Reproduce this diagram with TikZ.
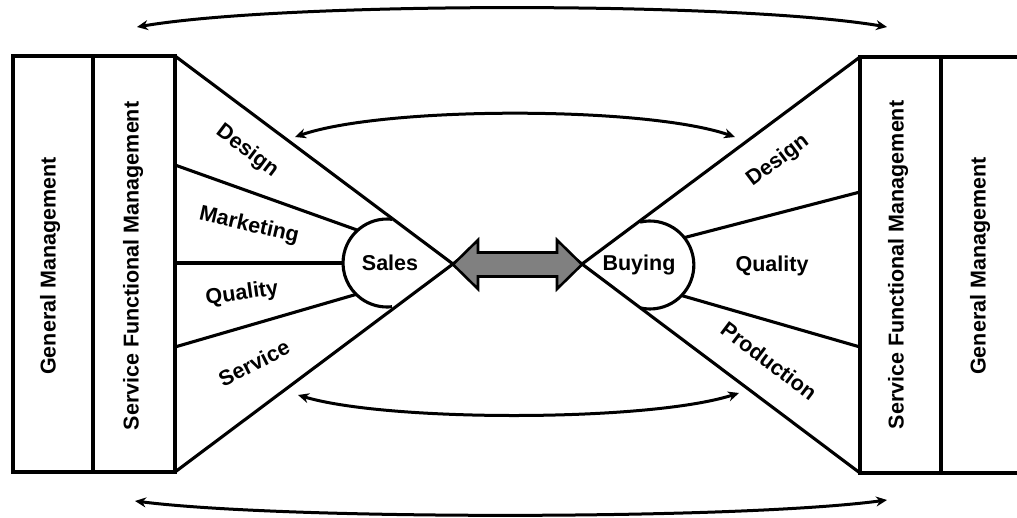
\documentclass[tikz,border=0pt]{standalone}
\usepackage{fontspec}
\setmainfont{Liberation Sans}
\usetikzlibrary{arrows.meta}
\begin{document}
\begin{tikzpicture}[x=1pt,y=-1pt,
  line/.style={line width=3.1pt, line join=miter},
  lbl/.style={font=\bfseries\fontsize{21.5}{24}\selectfont, inner sep=0pt},
  curve/.style={line width=3pt, {Stealth[length=11pt,width=10pt]}-{Stealth[length=11pt,width=10pt]}}]
\useasboundingbox (0,0) rectangle (1017,518);
% key points
\coordinate (LT) at (175,56);
\coordinate (LB) at (175,472);
\coordinate (LA) at (453,264);
\coordinate (LTe) at (461,270);
\coordinate (LBe) at (461,258);
\coordinate (RT) at (860,57);
\coordinate (RB) at (860,473);
\coordinate (RA) at (582,264);
\coordinate (RTe) at (574,270);
\coordinate (RBe) at (574,258);
% left dividers
\coordinate (l1) at (175,165);
\coordinate (l2) at (175,263);
\coordinate (l3) at (175,347);
\coordinate (l1e) at (385,240);
\coordinate (l2e) at (385,263);
\coordinate (l3e) at (385,286);
\draw[line] (l1) -- (l1e);
\draw[line] (l2) -- (l2e);
\draw[line] (l3) -- (l3e);
% right dividers
\coordinate (r1) at (860,192);
\coordinate (r2) at (860,347);
\coordinate (r1e) at (652,246);
\coordinate (r2e) at (652,287);
\draw[line] (r1) -- (r1e);
\draw[line] (r2) -- (r2e);
% Sales arc (open towards the apex)
\coordinate (st) at (392,219.3);
\coordinate (bt) at (640.1,222.1);
\fill[white] (st) arc[start angle=-83.5, end angle=-276.5, radius=44] -- (LA) -- cycle;
\draw[line] (st) arc[start angle=-83.5, end angle=-276.5, radius=44];
% Buying arc (open towards the apex)
\fill[white] (bt) arc[start angle=-102.8, end angle=102.8, radius=44] -- (RA) -- cycle;
\draw[line] (bt) arc[start angle=-102.8, end angle=102.8, radius=44];
% triangle edges
\draw[line] (LT) -- (LTe);
\draw[line] (LB) -- (LBe);
\draw[line] (RT) -- (RTe);
\draw[line] (RB) -- (RBe);
% boxes
\draw[line] (13,56) rectangle (175,472);
\draw[line] (93,56) -- (93,472);
\draw[line] (1020,57) -- (860,57) -- (860,473) -- (1020,473);
\draw[line] (941,57) -- (941,473);
% central double arrow
\filldraw[line width=2.6pt, fill=black!50, line join=miter]
  (453,264.5) -- (478,240) -- (478,252.5) -- (557,252.5) -- (557,240) -- (582,264.5)
  -- (557,289) -- (557,276.5) -- (478,276.5) -- (478,289) -- cycle;
% curved arrows
\coordinate (a1) at (137,27);  \coordinate (a2) at (887,27);
\coordinate (b1) at (295,137); \coordinate (b2) at (735,137);
\coordinate (c1) at (298,395); \coordinate (c2) at (739,393);
\coordinate (d1) at (135,501); \coordinate (d2) at (887,500);
\draw[curve] (a1) .. controls (287,1.5) and (737,1.5) .. (a2);
\draw[curve] (b1) .. controls (385,106) and (645,106) .. (b2);
\draw[curve] (c1) .. controls (388,422) and (649,422) .. (c2);
\draw[curve] (d1) .. controls (285,520) and (737,520) .. (d2);
% labels
\node[lbl, rotate=90] (gm1) at (50,266) {General Management};
\node[lbl, rotate=90] (sfm1) at (133,266) {Service Functional Management};
\node[lbl, rotate=90] (sfm2) at (898,265) {Service Functional Management};
\node[lbl, rotate=90] (gm2) at (980,266) {General Management};
\node[lbl, rotate=-37] (des1) at (247,151) {Design};
\node[lbl, rotate=-13] (mkt) at (249,226) {Marketing};
\node[lbl, rotate=8] (qual1) at (242,294) {Quality};
\node[lbl, rotate=27] (serv) at (254,363) {Service};
\node[lbl] (sales) at (390,263) {Sales};
\node[lbl] (buying) at (639,265) {Buying};
\node[lbl, rotate=37] (des2) at (778,161) {Design};
\node[lbl] (qual2) at (772,266) {Quality};
\node[lbl, rotate=-37] (prod) at (769,361) {Production};
\end{tikzpicture}
\end{document}
